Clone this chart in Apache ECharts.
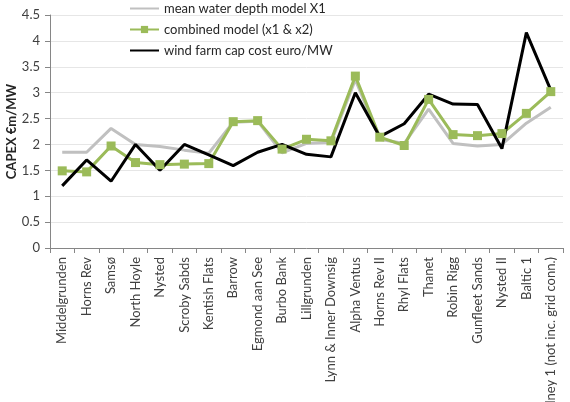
<!DOCTYPE html>
<html>
<head>
<meta charset="utf-8">
<script src="https://cdn.jsdelivr.net/npm/echarts@6/dist/echarts.min.js"></script>
<style>
  html, body { margin: 0; padding: 0; background: #fff; }
  #chart { width: 570px; height: 402px; }
</style>
</head>
<body>
<div id="chart"></div>
<script>
'use strict';

const farms = ['Middelgrunden', 'Horns Rev', 'Samsø', 'North Hoyle', 'Nysted', 'Scroby Sabds',
  'Kentish Flats', 'Barrow', 'Egmond aan See', 'Burbo Bank', 'Lillgrunden', 'Lynn & Inner Downsig',
  'Alpha Ventus', 'Horns Rev II', 'Rhyl Flats', 'Thanet', 'Robin Rigg', 'Gunfleet Sands',
  'Nysted II', 'Baltic 1', 'Walney 1 (not inc. grid conn.)'];

const waterDepth = [1.85, 1.85, 2.31, 2.0, 1.96, 1.89, 1.83, 2.43, 2.45, 1.84, 2.02, 2.04,
  3.25, 2.1, 2.02, 2.68, 2.02, 1.97, 2.0, 2.41, 2.72];
const combined = [1.49, 1.47, 1.97, 1.65, 1.61, 1.62, 1.63, 2.44, 2.46, 1.91, 2.1, 2.07,
  3.32, 2.14, 1.98, 2.87, 2.19, 2.17, 2.21, 2.6, 3.02];
const capCost = [1.2, 1.7, 1.29, 2.0, 1.5, 2.0, 1.8, 1.59, 1.85, 2.0, 1.81, 1.76,
  3.0, 2.15, 2.4, 2.97, 2.78, 2.77, 1.92, 4.16, 3.05];

const font = 'Lato';
const chart = echarts.init(document.getElementById('chart'));

chart.setOption({
  animation: false,
  textStyle: { fontFamily: font },
  legend: {
    orient: 'vertical',
    left: 124,
    top: -3,
    itemWidth: 29,
    itemHeight: 9,
    itemGap: 8,
    textStyle: { fontFamily: font, fontSize: 13, color: '#262626' },
    data: [
      { name: 'mean water depth model X1', itemStyle: { opacity: 0 } },
      { name: 'combined model (x1 & x2)' },
      { name: 'wind farm cap cost euro/MW', itemStyle: { opacity: 0 } }
    ]
  },
  grid: { left: 50, right: 7, top: 15, bottom: 154, outerBoundsMode: 'none', containLabel: false },
  xAxis: {
    type: 'category',
    data: farms,
    boundaryGap: true,
    axisLine: { lineStyle: { color: '#868686' } },
    axisTick: { show: true, length: 5, lineStyle: { color: '#868686' } },
    axisLabel: { rotate: 90, interval: 0, fontSize: 13, color: '#404040', margin: 9 }
  },
  yAxis: {
    type: 'value',
    min: 0,
    max: 4.5,
    interval: 0.5,
    name: 'CAPEX €m/MW',
    nameLocation: 'middle',
    nameGap: 32,
    nameMoveOverlap: false,
    nameTextStyle: { fontWeight: 'bold', fontSize: 13, color: '#262626' },
    axisLine: { show: true, lineStyle: { color: '#868686' } },
    axisTick: { show: true, length: 5, lineStyle: { color: '#868686' } },
    axisLabel: { fontSize: 13, color: '#404040', margin: 10 },
    splitLine: { lineStyle: { color: '#e6e6e6' } }
  },
  series: [
    {
      name: 'mean water depth model X1',
      type: 'line',
      data: waterDepth,
      symbol: 'none',
      itemStyle: { color: '#c0c0c0' },
      lineStyle: { width: 3, color: '#c0c0c0' }
    },
    {
      name: 'combined model (x1 & x2)',
      type: 'line',
      data: combined,
      symbol: 'rect',
      symbolSize: 9,
      itemStyle: { color: '#9bbb59' },
      lineStyle: { width: 3, color: '#9bbb59' }
    },
    {
      name: 'wind farm cap cost euro/MW',
      type: 'line',
      data: capCost,
      symbol: 'none',
      itemStyle: { color: '#000000' },
      lineStyle: { width: 3, color: '#000000' }
    }
  ]
});
</script>
</body>
</html>
